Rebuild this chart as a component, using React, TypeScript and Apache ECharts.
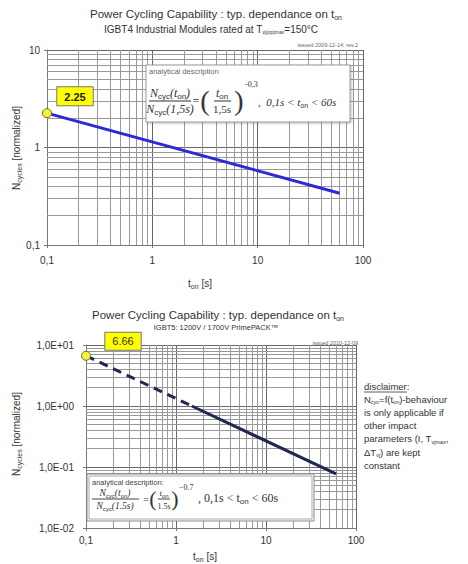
import React, { useEffect, useRef } from "react";
import * as echarts from "echarts";

// ---- data ----
const xTickValues = [0.1, 1, 10, 100];
const xTickLabels = ["0,1", "1", "10", "100"];
const y1TickValues = [0.1, 1, 10];
const y1TickLabels = ["0,1", "1", "10"];
const y2TickValues = [0.01, 0.1, 1, 10];
const y2TickLabels = ["1,0E-02", "1,0E-01", "1,0E+00", "1,0E+01"];

const chart1T = [0.1, 60];
const chart1N = [2.25, 0.34];
const chart2DashT = [0.1, 1.5];
const chart2DashN = [6.66, 1.0];
const chart2SolidT = [1.5, 60];
const chart2SolidN = [1.0, 0.077];

const minorSteps = [2, 3, 4, 5, 6, 7, 8, 9];
const xDecades = [0.1, 1, 10];
const y1Decades = [0.1, 1];
const y2Decades = [0.01, 0.1, 1];

const disclaimerLines = [
  "N{s|cyc}=f(t{s|on})-behaviour",
  "is only applicable if",
  "other impact",
  "parameters (I, T{s|vjmax},",
  "ΔT{s|vj}) are kept",
  "constant",
];

const minorOf = (decades: number[]) =>
  decades.flatMap((d) => minorSteps.map((s) => d * s));

const labelFor = (values: number[], labels: string[]) => (v: number) => {
  const i = values.findIndex((t) => Math.abs(Math.log10(t) - Math.log10(v)) < 1e-6);
  return i >= 0 ? labels[i] : "";
};

const SANS = "Arial, 'Liberation Sans', sans-serif";
const SERIF = "'Liberation Serif', 'DejaVu Serif', serif";
const TXT = "#333";

const sub = (size: number) => ({
  s: { fontSize: size, verticalAlign: "bottom" as const, lineHeight: size + 6, fill: TXT },
});

function txt(x: number, y: number, text: string, size: number, opts: any = {}) {
  const hasRich = text.indexOf("{s|") >= 0;
  const style: any = {
    text,
    fontSize: size,
    fontFamily: opts.family || SANS,
    fontStyle: opts.italic ? "italic" : "normal",
    fontWeight: opts.bold ? "bold" : "normal",
    fill: opts.color || TXT,
    align: opts.align || "left",
    verticalAlign: opts.valign || "middle",
  };
  if (hasRich) style.rich = sub(opts.subSize || Math.round(size * 0.65));
  return {
    type: "text",
    x,
    y,
    silent: true,
    z: 100,
    rotation: opts.rotation || 0,
    style,
  };
}

function hline(x1: number, x2: number, y: number, color = "#333", w = 1) {
  return {
    type: "line",
    silent: true,
    z: 100,
    shape: { x1, y1: y, x2, y2: y },
    style: { stroke: color, lineWidth: w },
  };
}

function gridLineSeries(xi: number, xMinor: number[], yMinor: number[]) {
  return {
    type: "line",
    xAxisIndex: xi,
    yAxisIndex: xi,
    data: [],
    silent: true,
    z: 1,
    markLine: {
      silent: true,
      symbol: ["none", "none"],
      label: { show: false },
      animation: false,
      lineStyle: { color: "#999", width: 1, type: "solid" },
      emphasis: { disabled: true },
      data: [
        ...xMinor.map((v) => ({ xAxis: v })),
        ...yMinor.map((v) => ({ yAxis: v })),
      ],
    },
  };
}

function logX(gridIndex: number, margin: number) {
  return {
    type: "log",
    logBase: 10,
    gridIndex,
    min: 0.1,
    max: 100,
    axisLine: { show: true, lineStyle: { color: "#777" } },
    axisTick: { show: true, length: 3, lineStyle: { color: "#777" } },
    minorTick: { show: false },
    splitLine: { show: true, lineStyle: { color: "#666", width: 1 } },
    axisLabel: {
      color: TXT,
      fontSize: 10,
      fontFamily: SANS,
      margin,
      formatter: labelFor(xTickValues, xTickLabels),
    },
  };
}

function logY(gridIndex: number, min: number, max: number, values: number[], labels: string[], margin: number) {
  return {
    type: "log",
    logBase: 10,
    gridIndex,
    min,
    max,
    axisLine: { show: true, lineStyle: { color: "#777" } },
    axisTick: { show: true, length: 3, lineStyle: { color: "#777" } },
    splitLine: { show: true, lineStyle: { color: "#666", width: 1 } },
    axisLabel: {
      color: TXT,
      fontSize: 10,
      fontFamily: SANS,
      margin,
      formatter: labelFor(values, labels),
    },
  };
}

const pairs = (xs: number[], ys: number[]) => xs.map((x, i) => [x, ys[i]]);

export default function App() {
  const ref = useRef<HTMLDivElement>(null);

  useEffect(() => {
    if (!ref.current) return;
    const chart = echarts.init(ref.current, undefined, { renderer: "svg" });

    const graphic: any[] = [
      // Chart 1 titles
      txt(216, 14, "Power Cycling Capability : typ. dependance on t{s|on}", 11.5, { align: "center" }),
      txt(211, 29, "IGBT4 Industrial Modules rated at T{s|vj(op)max}=150°C", 10, { align: "center", subSize: 5 }),
      txt(358, 45, "issued 2009-12-14; rev.2", 5.5, { align: "right", color: "#666" }),
      txt(16, 148, "N{s|cycles} [normalized]", 10, { align: "center", rotation: Math.PI / 2 }),
      txt(200, 283, "t{s|on} [s]", 10, { align: "center" }),

      // Chart 1 formula box
      {
        type: "rect",
        z: 90,
        silent: true,
        shape: { x: 146, y: 65, width: 204, height: 57 },
        style: { fill: "#fff", stroke: "#999", lineWidth: 1, shadowBlur: 2, shadowColor: "rgba(0,0,0,0.25)", shadowOffsetX: 1, shadowOffsetY: 1 },
      },
      txt(149, 71, "analytical description", 7.5, { color: "#666" }),
      txt(170, 93, "N{s|cyc}(t{s|on})", 12, { family: SERIF, italic: true, align: "center" }),
      hline(149, 191, 101),
      txt(170, 109, "N{s|cyc}(1,5s)", 12, { family: SERIF, italic: true, align: "center" }),
      txt(196, 101, "=", 12, { family: SERIF, align: "center" }),
      txt(205, 100, "(", 28, { family: SERIF, align: "center" }),
      txt(222, 93, "t{s|on}", 12, { family: SERIF, italic: true, align: "center" }),
      hline(214, 231, 101),
      txt(222, 109, "1,5s", 11, { family: SERIF, align: "center" }),
      txt(239, 100, ")", 28, { family: SERIF, align: "center" }),
      txt(245, 84, "-0,3", 8, { family: SERIF }),
      txt(258, 102, ",  0,1s < t{s|on} < 60s", 11, { family: SERIF, italic: true }),

      // Chart 2 titles
      txt(218, 315, "Power Cycling Capability : typ. dependance on t{s|on}", 11.5, { align: "center" }),
      txt(216, 327, "IGBT5: 1200V / 1700V PrimePACK™", 7.5, { align: "center" }),
      txt(358, 343, "issued 2010-12-09", 5.5, { align: "right", color: "#666" }),
      txt(16, 434, "N{s|cycles} [normalized]", 10, { align: "center", rotation: Math.PI / 2 }),
      txt(205, 556, "t{s|on} [s]", 10, { align: "center" }),

      // Chart 2 formula box
      {
        type: "rect",
        z: 90,
        silent: true,
        shape: { x: 87, y: 474, width: 227, height: 47 },
        style: { fill: "#fff", stroke: "#888", lineWidth: 1 },
      },
      {
        type: "rect",
        z: 91,
        silent: true,
        shape: { x: 89, y: 476, width: 223, height: 43 },
        style: { fill: "#fff", stroke: "#aaa", lineWidth: 1 },
      },
      txt(92, 482, "analytical description:", 7.5, { color: "#444" }),
      txt(115, 493, "N{s|cyc}(t{s|on})", 9.5, { family: SERIF, italic: true, align: "center" }),
      hline(92, 139, 499, "#444"),
      txt(115, 506, "N{s|cyc}(1.5s)", 9.5, { family: SERIF, italic: true, align: "center" }),
      txt(146, 499, "=", 10, { family: SERIF, align: "center" }),
      txt(153, 498, "(", 22, { family: SERIF, align: "center" }),
      txt(164, 493, "t{s|on}", 9, { family: SERIF, italic: true, align: "center" }),
      hline(158, 170, 499, "#444"),
      txt(164, 506, "1.5s", 8, { family: SERIF, align: "center" }),
      txt(175, 498, ")", 22, { family: SERIF, align: "center" }),
      txt(179, 487, "−0.7", 8, { family: SERIF }),
      txt(198, 498, ", 0,1s < t{s|on} < 60s", 12, { family: SERIF }),

      // disclaimer
      txt(364, 386, "disclaimer:", 9.5, {}),
      hline(364, 407, 392, "#333", 0.8),
      ...disclaimerLines.map((l, i) => txt(364, 399 + i * 13.3, l, 9.5, { subSize: 5.5 })),
    ];

    const option: any = {
      animation: false,
      backgroundColor: "#fff",
      grid: [
        { left: 47, top: 50, width: 316, height: 195 },
        { left: 86, top: 345, width: 270, height: 183 },
      ],
      xAxis: [logX(0, 10), logX(1, 7)],
      yAxis: [
        logY(0, 0.1, 10, y1TickValues, y1TickLabels, 7),
        logY(1, 0.01, 10, y2TickValues, y2TickLabels, 12),
      ],
      series: [
        gridLineSeries(0, minorOf(xDecades), minorOf(y1Decades)),
        gridLineSeries(1, minorOf(xDecades), minorOf(y2Decades)),
        {
          type: "line",
          xAxisIndex: 0,
          yAxisIndex: 0,
          z: 5,
          data: pairs(chart1T, chart1N).map((p, i) =>
            i === 0
              ? {
                  value: p,
                  symbol: "circle",
                  symbolSize: 9,
                  itemStyle: { color: "#f4f43a", borderColor: "#6b6b20", borderWidth: 1 },
                  label: {
                    show: true,
                    position: "top",
                    offset: [28, 2],
                    formatter: String(chart1N[0]),
                    backgroundColor: "#ffff00",
                    borderColor: "#777",
                    borderWidth: 1,
                    padding: [4, 7, 3, 7],
                    color: "#222",
                    fontSize: 11,
                    fontWeight: "bold",
                    fontFamily: SANS,
                  },
                }
              : { value: p, symbol: "none" }
          ),
          lineStyle: { color: "#2a2ad6", width: 3 },
          showSymbol: true,
        },
        {
          type: "line",
          xAxisIndex: 1,
          yAxisIndex: 1,
          z: 5,
          data: pairs(chart2DashT, chart2DashN).map((p, i) =>
            i === 0
              ? {
                  value: p,
                  symbol: "circle",
                  symbolSize: 9,
                  itemStyle: { color: "#f4f43a", borderColor: "#6b6b20", borderWidth: 1 },
                  label: {
                    show: true,
                    position: "top",
                    offset: [37, 4],
                    formatter: String(chart2DashN[0]),
                    backgroundColor: "#ffff00",
                    borderColor: "#777",
                    borderWidth: 1,
                    padding: [3, 7, 3, 7],
                    color: "#333",
                    fontSize: 11,
                    fontFamily: SANS,
                  },
                }
              : { value: p, symbol: "none" }
          ),
          lineStyle: { color: "#1f2850", width: 3, type: [9, 6] },
        },
        {
          type: "line",
          xAxisIndex: 1,
          yAxisIndex: 1,
          z: 5,
          symbol: "none",
          data: pairs(chart2SolidT, chart2SolidN),
          lineStyle: { color: "#1f2850", width: 3 },
        },
      ],
      graphic,
    };

    chart.setOption(option);
    return () => chart.dispose();
  }, []);

  return (
    <div
      ref={ref}
      style={{ position: "fixed", left: 0, top: 0, width: 468, height: 564, background: "#fff" }}
    />
  );
}
